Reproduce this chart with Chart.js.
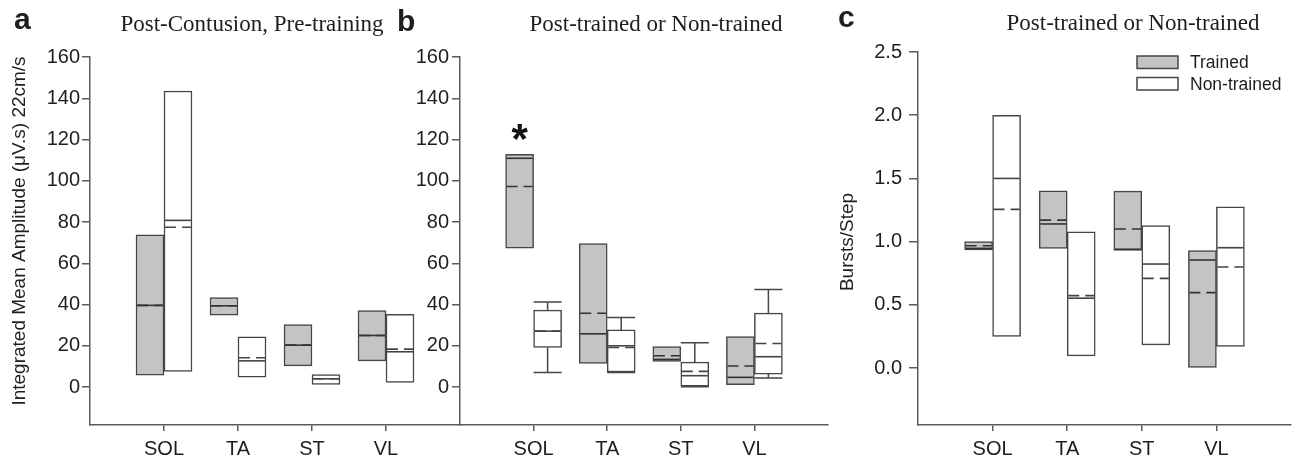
<!DOCTYPE html>
<html><head><meta charset="utf-8">
<script src="https://cdn.jsdelivr.net/npm/chart.js@4.4.0/dist/chart.umd.min.js"></script>
<style>
html,body{margin:0;padding:0;background:#fff;}
#wrap{position:relative;width:1294px;height:462px;overflow:hidden;}
canvas{position:absolute;left:0;top:0;}
</style></head><body>
<div id="wrap">
<canvas id="ca" width="1294" height="462"></canvas>
<canvas id="cb" width="1294" height="462"></canvas>
<canvas id="cc" width="1294" height="462"></canvas>
</div>
<script>
// ---------- data ----------
const categories = ['SOL', 'TA', 'ST', 'VL'];
const seriesNames = ['Trained', 'Non-trained'];
const ampTicks = [0, 20, 40, 60, 80, 100, 120, 140, 160];
const burstTicks = [0, 0.5, 1.0, 1.5, 2.0, 2.5];

// Panel a: Post-Contusion, Pre-training (amplitude)
const aTrainedBox    = [[5.8, 73.8], [34.9, 43.4], [10.3, 30.3], [12.7, 37.1]];
const aTrainedMedian = [39.6, 39.4, 20.3, 25.0];
const aTrainedMean   = [39.6, 39.4, 20.3, 25.0];
const aNonBox        = [[7.6, 143.5], [4.8, 24.4], [1.3, 6.0], [2.3, 35.3]];
const aNonMedian     = [80.8, 12.7, 4.0, 17.1];
const aNonMean       = [77.5, 14.2, 4.0, 18.4];

// Panel b: Post-trained or Non-trained (amplitude)
const bTrainedBox    = [[67.3, 112.8], [11.5, 69.6], [12.4, 19.6], [1.1, 24.5]];
const bTrainedMedian = [110.9, 25.8, 13.4, 4.7];
const bTrainedMean   = [97.2, 35.8, 15.2, 10.2];
const bNonBox        = [[19.2, 37.3], [7.3, 27.7], [0.4, 12.1], [6.3, 35.8]];
const bNonMedian     = [27.1, 20.0, 5.5, 14.7];
const bNonMean       = [27.1, 19.2, 7.6, 21.1];
const bNonWhiskerLow = [7.1, 7.1, 0.2, 4.4];
const bNonWhiskerHigh= [41.2, 33.7, 21.5, 47.3];
const bSignificant   = [123.7, null, null, null]; // asterisk over trained SOL

// Panel c: Bursts/Step
const cTrainedBox    = [[0.934, 1.0], [0.947, 1.402], [0.93, 1.40], [0.0, 0.929]];
const cTrainedMedian = [0.947, 1.14, 0.94, 0.855];
const cTrainedMean   = [0.968, 1.17, 1.10, 0.597];
const cNonBox        = [[0.25, 2.0], [0.097, 1.078], [0.184, 1.128], [0.171, 1.276]];
const cNonMedian     = [1.5, 0.553, 0.823, 0.952];
const cNonMean       = [1.255, 0.573, 0.71, 0.80];

// ---------- styling ----------
const GRAY = '#c4c4c4';
const EDGE = '#464646';
const AXIS = '#5a5a5a';
const TXT = '#1e1e1e';
const TICKFONT = {family: 'Liberation Sans', size: 20};

const pts = arr => arr.map((r, i) => ({x: i + 1, y: r}));

function makeDatasets(tBox, tMed, tMean, nBox, nMed, nMean, extra) {
  extra = extra || {};
  return [
    {label: seriesNames[0], data: pts(tBox), backgroundColor: GRAY, borderColor: EDGE,
     borderWidth: 1.5, borderSkipped: false, barThickness: 28,
     median: tMed, mean: tMean, lineColor: '#333', whiskerLow: extra.tLow, whiskerHigh: extra.tHigh, marks: extra.tMarks},
    {label: seriesNames[1], data: pts(nBox), backgroundColor: '#ffffff', borderColor: EDGE,
     borderWidth: 1.5, borderSkipped: false, barThickness: 28,
     median: nMed, mean: nMean, lineColor: '#444', whiskerLow: extra.nLow, whiskerHigh: extra.nHigh, marks: extra.nMarks}
  ];
}

// draws medians (solid), means (dashed), whiskers and significance marks via scales
const boxExtras = {
  id: 'boxExtras',
  afterDatasetsDraw(chart) {
    const ctx = chart.ctx;
    const ys = chart.scales.y;
    chart.data.datasets.forEach((ds, di) => {
      const meta = chart.getDatasetMeta(di);
      meta.data.forEach((bar, i) => {
        const p = bar.getProps(['x', 'width', 'y', 'base'], true);
        const l = p.x - p.width / 2, r = p.x + p.width / 2;
        const top = Math.min(p.y, p.base), bot = Math.max(p.y, p.base);
        ctx.save();
        ctx.strokeStyle = EDGE;
        ctx.lineWidth = 1.5;
        if (ds.whiskerHigh && ds.whiskerHigh[i] != null) {
          const wy = ys.getPixelForValue(ds.whiskerHigh[i]);
          ctx.beginPath();
          ctx.moveTo(p.x, top); ctx.lineTo(p.x, wy);
          ctx.moveTo(l, wy); ctx.lineTo(r, wy);
          ctx.stroke();
        }
        if (ds.whiskerLow && ds.whiskerLow[i] != null) {
          const wy = ys.getPixelForValue(ds.whiskerLow[i]);
          ctx.beginPath();
          ctx.moveTo(p.x, bot); ctx.lineTo(p.x, wy);
          ctx.moveTo(l, wy); ctx.lineTo(r, wy);
          ctx.stroke();
        }
        ctx.strokeStyle = ds.lineColor;
        ctx.lineWidth = 1.6;
        if (ds.median && ds.median[i] != null) {
          const my = ys.getPixelForValue(ds.median[i]);
          ctx.beginPath(); ctx.moveTo(l + 1, my); ctx.lineTo(r - 1, my); ctx.stroke();
        }
        if (ds.mean && ds.mean[i] != null) {
          const my = ys.getPixelForValue(ds.mean[i]);
          ctx.setLineDash([11, 6]);
          ctx.beginPath(); ctx.moveTo(l + 1, my); ctx.lineTo(r - 1, my); ctx.stroke();
          ctx.setLineDash([]);
        }
        if (ds.marks && ds.marks[i] != null) {
          const sy = ys.getPixelForValue(ds.marks[i]);
          ctx.font = 'bold 42px "Liberation Sans"';
          ctx.fillStyle = '#111';
          ctx.textAlign = 'center';
          ctx.textBaseline = 'alphabetic';
          const m = ctx.measureText('*');
          const asc = m.actualBoundingBoxAscent, desc = m.actualBoundingBoxDescent;
          ctx.fillText('*', p.x, sy + (asc - desc) / 2);
        }
        ctx.restore();
      });
    });
  }
};

// free text: panel letters, titles, rotated axis titles
const panelText = {
  id: 'panelText',
  afterDraw(chart, args, opts) {
    const ctx = chart.ctx;
    (opts.items || []).forEach(it => {
      ctx.save();
      ctx.font = it.font;
      ctx.fillStyle = it.color || TXT;
      ctx.textAlign = it.align || 'left';
      ctx.textBaseline = it.baseline || 'alphabetic';
      ctx.translate(it.x, it.y);
      if (it.rotate) ctx.rotate(it.rotate);
      ctx.fillText(it.text, 0, 0);
      ctx.restore();
    });
  }
};

// legend drawn from the datasets' own styles and labels
const boxLegend = {
  id: 'boxLegend',
  afterDraw(chart, args, opts) {
    if (!opts.show) return;
    const ctx = chart.ctx;
    const ca = chart.chartArea;
    chart.data.datasets.forEach((ds, i) => {
      const bx = ca.right - opts.offsetRight;
      const by = ca.top + opts.offsetTop + i * opts.rowGap;
      ctx.save();
      ctx.fillStyle = ds.backgroundColor;
      ctx.strokeStyle = ds.borderColor;
      ctx.lineWidth = 1.5;
      ctx.fillRect(bx, by, opts.boxW, opts.boxH);
      ctx.strokeRect(bx, by, opts.boxW, opts.boxH);
      ctx.fillStyle = TXT;
      ctx.font = '17.5px "Liberation Sans"';
      ctx.textBaseline = 'middle';
      ctx.textAlign = 'left';
      ctx.fillText(ds.label, bx + opts.boxW + 12, by + opts.boxH / 2 + 1);
      ctx.restore();
    });
  }
};

function makeChart(id, datasets, cfg) {
  return new Chart(document.getElementById(id), {
    type: 'bar',
    data: {datasets},
    plugins: [boxExtras, panelText, boxLegend],
    options: {
      responsive: false,
      animation: false,
      events: [],
      layout: {padding: cfg.padding},
      plugins: {
        legend: {display: false},
        tooltip: {enabled: false},
        title: {display: false},
        panelText: {items: cfg.texts},
        boxLegend: cfg.legend || {show: false}
      },
      scales: {
        x: {
          type: 'linear', min: 0, max: 5, offset: false,
          afterBuildTicks: s => { s.ticks = categories.map((c, i) => ({value: i + 1})); },
          afterFit: s => { s.height = cfg.xHeight; },
          ticks: {callback: v => categories[v - 1], font: TICKFONT, color: TXT, padding: 6, autoSkip: false, maxRotation: 0},
          grid: {drawOnChartArea: false, offset: false, tickLength: 6, color: AXIS, lineWidth: 1.5},
          border: {color: AXIS, width: 1.5}
        },
        y: {
          min: cfg.yMin, max: cfg.yMax,
          afterBuildTicks: s => { s.ticks = cfg.yTicks.map(v => ({value: v})); },
          afterFit: s => { s.width = cfg.yWidth; },
          ticks: {callback: cfg.yFmt, font: TICKFONT, color: TXT, padding: cfg.yPad},
          grid: {drawOnChartArea: false, tickLength: cfg.yTickLen, color: AXIS, lineWidth: 1.5},
          border: {color: AXIS, width: 1.5}
        }
      }
    }
  });
}

const LETTER = 'bold 30px "Liberation Sans"';
const TITLE = '23px "Liberation Serif"';
const YLAB = '19px "Liberation Sans"';

makeChart('ca', makeDatasets(aTrainedBox, aTrainedMedian, aTrainedMean, aNonBox, aNonMedian, aNonMean), {
  padding: {left: 0, right: 1294 - 460, top: 57, bottom: 0},
  yWidth: 90, xHeight: 37, yMin: -18.4, yMax: 160, yTicks: ampTicks, yFmt: v => String(v),
  yPad: 2, yTickLen: 8,
  texts: [
    {text: 'a', x: 14, y: 29, font: LETTER},
    {text: 'Post-Contusion, Pre-training', x: 252, y: 31, font: TITLE, align: 'center'},
    {text: 'Integrated Mean Amplitude (\u03bcV.s) 22cm/s', x: 20, y: 231, font: YLAB, align: 'center', baseline: 'middle', rotate: -Math.PI / 2}
  ]
});

makeChart('cb', makeDatasets(bTrainedBox, bTrainedMedian, bTrainedMean, bNonBox, bNonMedian, bNonMean,
  {nLow: bNonWhiskerLow, nHigh: bNonWhiskerHigh, tMarks: bSignificant}), {
  padding: {left: 400, right: 1294 - 828, top: 57, bottom: 0},
  yWidth: 60, xHeight: 37, yMin: -18.4, yMax: 160, yTicks: ampTicks, yFmt: v => String(v),
  yPad: 3, yTickLen: 8,
  texts: [
    {text: 'b', x: 397, y: 31, font: LETTER},
    {text: 'Post-trained or Non-trained', x: 656, y: 31, font: TITLE, align: 'center'}
  ]
});

makeChart('cc', makeDatasets(cTrainedBox, cTrainedMedian, cTrainedMean, cNonBox, cNonMedian, cNonMean), {
  padding: {left: 860, right: 3, top: 52, bottom: 0},
  yWidth: 58, xHeight: 37, yMin: -0.45, yMax: 2.5, yTicks: burstTicks, yFmt: v => v.toFixed(1),
  yPad: 7, yTickLen: 9,
  legend: {show: true, offsetRight: 154, offsetTop: 4, rowGap: 21.5, boxW: 41, boxH: 12.5},
  texts: [
    {text: 'c', x: 838, y: 27, font: LETTER},
    {text: 'Post-trained or Non-trained', x: 1133, y: 30, font: TITLE, align: 'center'},
    {text: 'Bursts/Step', x: 848, y: 242, font: YLAB, align: 'center', baseline: 'middle', rotate: -Math.PI / 2}
  ]
});
</script>
</body></html>
